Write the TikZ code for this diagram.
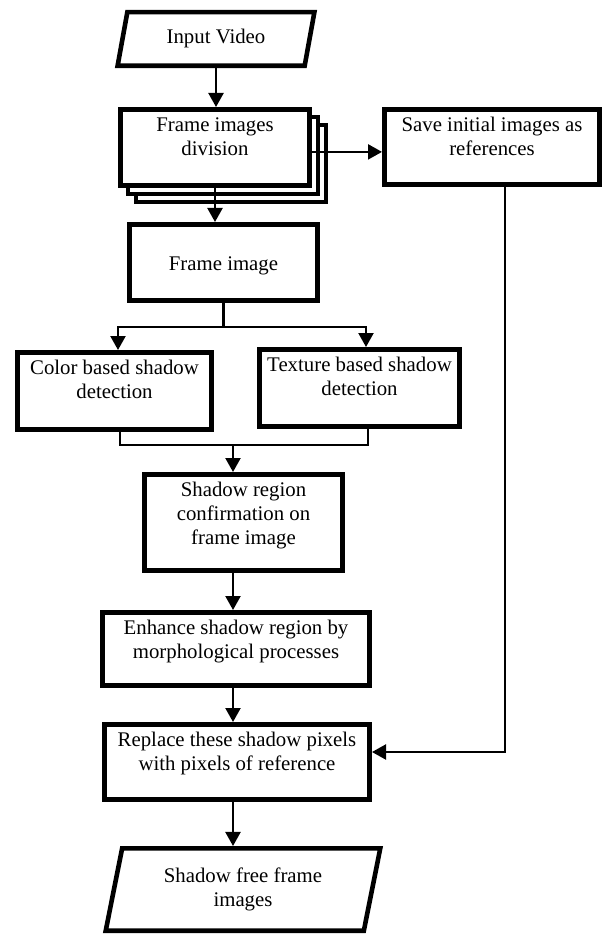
\documentclass[tikz,border=0pt]{standalone}
\usepackage{fontspec}
\setmainfont{Liberation Serif}
\usetikzlibrary{arrows.meta}
\usetikzlibrary{shapes.geometric}
\usetikzlibrary{shadows}
\newcommand{\toptext}[3]{\parbox[c][#2][t]{#1}{\centering\rule{0pt}{11.3pt}#3}}

\begin{document}
\begin{tikzpicture}[x=0.5pt,y=-0.5pt,
  font=\fontsize{10.4}{12}\selectfont,
  box/.style={draw, line width=2.3pt, fill=white, inner sep=0pt},
  stack/.style={general shadow={shadow xshift=8pt,shadow yshift=-8pt,draw,fill=white,line width=2pt},
                general shadow={shadow xshift=4pt,shadow yshift=-4pt,draw,fill=white,line width=2pt}},
  io/.style={trapezium, trapezium stretches=true, draw, line width=2.3pt, align=center, inner sep=0pt},
  line/.style={line width=1.1pt},
  arr/.style={line, -{Triangle[length=7pt,width=7.5pt]}}]
\useasboundingbox (0,0) rectangle (604,936);

\node[io, trapezium left angle=74, trapezium right angle=106,
      minimum width=98.8pt, minimum height=26.8pt] (invid) at (216,39) {Input Video};
\node[box, stack] (fdiv) at (215,147.5) {\toptext{94.6pt}{38.2pt}{Frame images\\division}};
\node[box] (save) at (492,147) {\toptext{107.7pt}{37.7pt}{Save initial images as\\references}};
\node[box] (fimg) at (223.5,262.5) {\toptext{94.2pt}{38.2pt}{\mbox{}\\Frame image}};
\node[box] (color) at (114.5,391) {\toptext{97.2pt}{38.7pt}{Color based shadow\\detection}};
\node[box] (tex) at (359.5,388) {\toptext{100.2pt}{38.7pt}{Texture based shadow\\detection}};
\node[box] (sconf) at (243.5,522.5) {\toptext{99.2pt}{48.2pt}{Shadow region\\confirmation on\\frame image}};
\node[box] (enh) at (236,649) {\toptext{133.7pt}{36.7pt}{Enhance shadow region by\\morphological processes}};
\node[box] (repl) at (237,762) {\toptext{132.7pt}{37.7pt}{Replace these shadow pixels\\with pixels of reference}};
\node[io, trapezium left angle=76, trapezium right angle=104,
      minimum width=137.7pt, minimum height=41.2pt] (sfree) at (243,889.5) {Shadow free frame\\images};

\coordinate (bl) at (118,327);
\coordinate (br) at (366,327);
\coordinate (ml) at (120,445);
\coordinate (mr) at (368,445);
\coordinate (mid) at (233,445);
\coordinate (rc) at (505,752);

\draw[arr] (invid.south) -- (invid.south |- fdiv.north);
\draw[arr] (fdiv.south) -- (fdiv.south |- fimg.north);
\draw[arr] ([yshift=-2.2pt]fdiv.east) -- ([yshift=-2.2pt]fdiv.east -| save.west);
\draw[arr] (fimg.south) |- (bl) -- (bl |- color.north);
\draw[arr] (fimg.south |- br) -- (br) -- (br |- tex.north);
\draw[line] (ml |- color.south) -- (ml) -- (mr) -- (mr |- tex.south);
\draw[arr] (mid) -- (mid |- sconf.north);
\draw[arr] (mid |- sconf.south) -- (mid |- enh.north);
\draw[arr] (mid |- enh.south) -- (mid |- repl.north);
\draw[arr] (mid |- repl.south) -- (mid |- sfree.north);
\draw[arr] (rc |- save.south) -- (rc) -- (rc -| repl.east);
\end{tikzpicture}
\end{document}
